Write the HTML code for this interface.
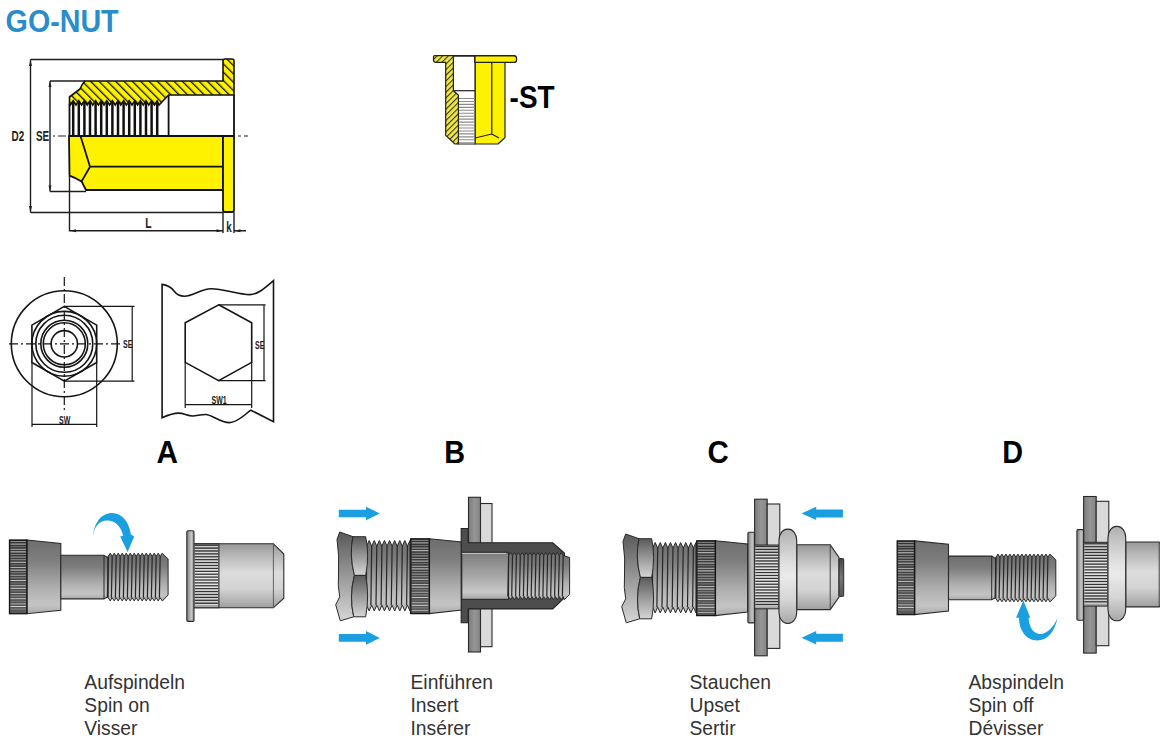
<!DOCTYPE html>
<html><head><meta charset="utf-8">
<style>
html,body{margin:0;padding:0;background:#fff;width:1160px;height:749px;overflow:hidden}
svg{display:block;position:absolute;left:0;top:0}
text{font-family:"Liberation Sans",sans-serif}
</style></head>
<body>
<svg width="1160" height="749" viewBox="0 0 1160 749">
<defs>
<pattern id="hatch" patternUnits="userSpaceOnUse" width="5.9" height="5.9" patternTransform="rotate(-45)">
<rect width="5.9" height="5.9" fill="#fff200"/>
<rect x="0" y="0" width="1.3" height="5.9" fill="#111"/>
</pattern>
<pattern id="hatch2" patternUnits="userSpaceOnUse" width="4" height="4" patternTransform="rotate(45)">
<rect width="4" height="4" fill="#f3ea3a"/>
<rect x="0" y="0" width="1.1" height="4" fill="#333"/>
</pattern>
<linearGradient id="gTool" x1="0" y1="0" x2="0" y2="1">
<stop offset="0" stop-color="#6e6e6e"/><stop offset="0.28" stop-color="#7e7e7e"/><stop offset="0.68" stop-color="#b2b2b2"/><stop offset="0.88" stop-color="#c4c4c4"/><stop offset="1" stop-color="#aaa"/>
</linearGradient>
<linearGradient id="gNut" x1="0" y1="0" x2="0" y2="1">
<stop offset="0" stop-color="#989898"/><stop offset="0.2" stop-color="#bababa"/><stop offset="0.45" stop-color="#dcdcdc"/><stop offset="0.7" stop-color="#d4d4d4"/><stop offset="1" stop-color="#a0a0a0"/>
</linearGradient>
<linearGradient id="gHex" x1="0" y1="0" x2="0" y2="1">
<stop offset="0" stop-color="#5a5a5a"/><stop offset="0.5" stop-color="#999"/><stop offset="1" stop-color="#d6d6d6"/>
</linearGradient>
<linearGradient id="gCap" x1="0" y1="0" x2="0" y2="1">
<stop offset="0" stop-color="#444"/><stop offset="0.5" stop-color="#777"/><stop offset="1" stop-color="#555"/>
</linearGradient>
<linearGradient id="gPlate1" x1="0" y1="0" x2="1" y2="0">
<stop offset="0" stop-color="#7c7c7c"/><stop offset="0.5" stop-color="#959595"/><stop offset="1" stop-color="#858585"/>
</linearGradient>
<linearGradient id="gFlange" x1="0" y1="0" x2="1" y2="0">
<stop offset="0" stop-color="#7e7e7e"/><stop offset="0.35" stop-color="#a6a6a6"/><stop offset="0.65" stop-color="#c6c6c6"/><stop offset="1" stop-color="#8a8a8a"/>
</linearGradient>
<linearGradient id="gBulge" x1="0" y1="0" x2="0" y2="1">
<stop offset="0" stop-color="#b0b0b0"/><stop offset="0.35" stop-color="#dedede"/><stop offset="0.5" stop-color="#eaeaea"/><stop offset="0.75" stop-color="#d5d5d5"/><stop offset="1" stop-color="#a8a8a8"/>
</linearGradient>
<linearGradient id="gKnurl" x1="0" y1="0" x2="0" y2="1">
<stop offset="0" stop-color="#333"/><stop offset="0.5" stop-color="#444"/><stop offset="1" stop-color="#5a5a5a"/>
</linearGradient>
<linearGradient id="gBore" x1="0" y1="0" x2="0" y2="1">
<stop offset="0" stop-color="#7c7c7c"/><stop offset="0.5" stop-color="#a6a6a6"/><stop offset="0.85" stop-color="#c9c9c9"/><stop offset="1" stop-color="#a4a4a4"/>
</linearGradient>
</defs>

<text font-size="30.5" font-weight="bold" fill="#2a8dcb" transform="translate(5.6 32) scale(0.94 1)">GO-NUT</text>
<g fill="none" stroke="#1e1e1e" stroke-width="1.4">
<path d="M30.5 59.5 V212.5 M30.5 59.5 H223 M30.5 212.5 H223"/>
<path d="M50 81 V191.5 M50 81 H85 M50 191.5 H86"/>
<path d="M69.5 176 V230.8 H223 M223 212 V233 M234 212 V233 M234 230.8 H246"/>
</g>
<g fill="#1e1e1e">
<path d="M30.5 60 L29 66 H32 Z M30.5 212 L29 206 H32 Z M50 81.5 L48.5 87 H51.5 Z M50 191 L48.5 185.5 H51.5 Z M70 230.8 L76 229.3 V232.3 Z M222.5 230.8 L216.5 229.3 V232.3 Z M234.5 230.8 L240.5 229.3 V232.3 Z"/>
</g>
<path d="M85 81 H223 V61 Q223 59 225 59 H232 Q234 59 234 61 V95 H168.6 L159 105 L157.2 100.8 L154.4 105 L151.6 100.8 L148.8 105 L146 100.8 L143.2 105 L140.4 100.8 L137.6 105 L134.8 100.8 L132 105 L129.2 100.8 L126.4 105 L123.6 100.8 L120.8 105 L118 100.8 L115.2 105 L112.4 100.8 L109.6 105 L106.8 100.8 L104 105 L101.2 100.8 L98.4 105 L95.6 100.8 L92.8 105 L90 100.8 L87.2 105 L84.4 100.8 L81.6 105 L78.8 100.8 L76 105 L73.2 100.8 L70.4 105 L69.5 104 V97 Q76 92 80 89 Q82 84 85 81 Z" fill="url(#hatch)" stroke="#111" stroke-width="1.6" stroke-linejoin="miter"/>
<path d="M71.95 136 V103 L73.2 101.5 L74.45 103 V136 Z M77.55 136 V103 L78.8 101.5 L80.05 103 V136 Z M83.15 136 V103 L84.4 101.5 L85.65 103 V136 Z M88.75 136 V103 L90 101.5 L91.25 103 V136 Z M94.35 136 V103 L95.6 101.5 L96.85 103 V136 Z M99.95 136 V103 L101.2 101.5 L102.45 103 V136 Z M105.55 136 V103 L106.8 101.5 L108.05 103 V136 Z M111.15 136 V103 L112.4 101.5 L113.65 103 V136 Z M116.75 136 V103 L118 101.5 L119.25 103 V136 Z M122.35 136 V103 L123.6 101.5 L124.85 103 V136 Z M127.95 136 V103 L129.2 101.5 L130.45 103 V136 Z M133.55 136 V103 L134.8 101.5 L136.05 103 V136 Z M139.15 136 V103 L140.4 101.5 L141.65 103 V136 Z M144.75 136 V103 L146 101.5 L147.25 103 V136 Z M150.35 136 V103 L151.6 101.5 L152.85 103 V136 Z M155.95 136 V103 L157.2 101.5 L158.45 103 V136 Z" fill="#111"/>
<path d="M69.5 104 V136 M168.6 95 V136 M234 95 V136" stroke="#111" stroke-width="1.8" fill="none"/>
<path d="M69 136 H223 V190 H86 L81.6 181.4 Q76 178 69.5 175.6 Z" fill="#fff200" stroke="#111" stroke-width="1.8" stroke-linejoin="round"/>
<path d="M80.5 136 L90 166.7 H223 M90 166.7 L81.6 181.4" fill="none" stroke="#111" stroke-width="1.8"/>
<path d="M223 136 H234 V210 Q234 212 232 212 H225 Q223 212 223 210 Z" fill="#fff200" stroke="#111" stroke-width="1.8"/>
<path d="M53 136 H55 M58 136 H66 M238 136 H241 M244 136 H248" stroke="#222" stroke-width="1.2"/>
<g font-weight="bold" fill="#1e1e1e">
<text font-size="15" transform="translate(11.6 141.3) scale(0.66 1)">D2</text>
<text font-size="15" transform="translate(36 141.3) scale(0.66 1)">SE</text>
<text font-size="14.5" transform="translate(145.3 227.8) scale(0.72 1)">L</text>
<text font-size="14.5" transform="translate(226.3 231.5) scale(0.68 1)">k</text>
</g>
<g stroke="#222" stroke-width="1.2" stroke-linejoin="round">
<path d="M475 62 H505 V137.5 L498 144 H475 Z" fill="#fff200"/>
<path d="M491.8 62 V134 M475 138 L491.8 134 L499 138" fill="none"/>
<path d="M453.4 56 H475 V144 H458.4 V95.4 L453.4 90.7 Z" fill="#fff"/>
<path d="M453.4 90.7 H475" fill="none"/>
</g>
<path d="M458.6 98.5 H475 M458.6 101.45 H475 M458.6 104.4 H475 M458.6 107.35 H475 M458.6 110.3 H475 M458.6 113.25 H475 M458.6 116.2 H475 M458.6 119.15 H475 M458.6 122.1 H475 M458.6 125.05 H475 M458.6 128 H475 M458.6 130.95 H475 M458.6 133.9 H475 M458.6 136.85 H475 M458.6 139.8 H475 M458.6 142.75 H475" stroke="#8a8a8a" stroke-width="1.1"/>
<path d="M433.5 56 Q433.5 55.6 436 55.6 H514 Q516.5 55.6 516.5 58.5 V60 Q516.5 62.3 514 62.3 H475 V56 H453.4 V90.7 L458.4 95.4 V144 H455 L445.7 135.4 V62.3 H436 Q433.5 62.3 433.5 60 Z" fill="url(#hatch2)" stroke="#222" stroke-width="1.2" stroke-linejoin="round"/>
<path d="M475 56 H514 Q516.5 56 516.5 58.5 V60 Q516.5 62.3 514 62.3 H475 Z" fill="#fff200" stroke="#222" stroke-width="1.2"/>
<text font-size="31" font-weight="bold" fill="#000" transform="translate(509.6 108.3) scale(0.9 1)">-ST</text>
<g fill="none" stroke="#151515" stroke-width="1.6">
<circle cx="64.3" cy="343.8" r="53"/>
<path d="M64.3 306.4 L96.7 325.1 V362.5 L64.3 381.2 L31.9 362.5 V325.1 Z"/>
<circle cx="64.3" cy="343.8" r="32.4"/>
<circle cx="64.3" cy="343.8" r="28.5"/>
<circle cx="64.3" cy="343.8" r="23.5"/>
<circle cx="64.3" cy="343.8" r="21"/>
<circle cx="64.3" cy="343.8" r="13.2"/>
<path d="M64.3 277 V410 M9 343.8 H123" stroke-dasharray="9 3 2 3" stroke-width="1.2"/>
<path d="M64.3 306.4 H134.5 M64.3 381.2 H134.5 M132.2 306.4 V381.2 M32 362 V427 M96.7 362 V427 M32 424.3 H96.7" stroke-width="1.2"/>
</g>
<g font-weight="bold" fill="#222">
<text font-size="10" transform="translate(123 348) scale(0.7 1)">SE</text>
<text font-size="10" transform="translate(59 424) scale(0.7 1)">SW</text>
</g>
<g fill="none" stroke="#151515" stroke-width="1.6">
<path d="M162.1 284.4 C168 285 171 287 174 291 C177 295 180 296.2 184.5 296.2 C193 296.2 201 288.7 211 288.7 C224 288.7 238 294.6 249.8 294.6 C258 294.6 266 287 273.5 280.6 V421.6 L250.9 410.2 C245 414 238 422.6 229.4 422.6 C220 422.6 212 414.5 205.6 414.5 C200 414.5 197 416 192.7 416 C187 416 184 413.1 178.7 413.1 C172 413.1 166 416 162.1 417.8 Z"/>
<path d="M218.7 304.8 L251.7 322.8 V362.4 L218.7 380.7 L185.2 362.4 V322.8 Z"/>
<path d="M218.7 304.8 H265.6 M218.7 380.7 H265.6 M264 304.8 V380.7 M185.2 362.4 V408 M251.7 362.4 V408 M185.2 404.7 H251.7" stroke-width="1.2"/>
</g>
<g font-weight="bold" fill="#222">
<text font-size="10" transform="translate(255 349) scale(0.7 1)">SE</text>
<text font-size="10" transform="translate(211.5 404) scale(0.7 1)">SW1</text>
</g>
<g font-size="31" font-weight="bold" fill="#000">
<text transform="translate(156.5 463) scale(0.96 1)">A</text><text transform="translate(444.3 463) scale(0.93 1)">B</text><text transform="translate(707.5 463) scale(0.95 1)">C</text><text transform="translate(1002.3 463) scale(0.93 1)">D</text>
</g>
<g font-size="19.3" fill="#333">
<text x="84.3" y="689">Aufspindeln</text>
<text x="84.3" y="712">Spin on</text>
<text x="84.3" y="735">Visser</text>
<text x="410.5" y="689">Einführen</text>
<text x="410.5" y="712">Insert</text>
<text x="410.5" y="735">Insérer</text>
<text x="689.5" y="689">Stauchen</text>
<text x="689.5" y="712">Upset</text>
<text x="689.5" y="735">Sertir</text>
<text x="968.5" y="689">Abspindeln</text>
<text x="968.5" y="712">Spin off</text>
<text x="968.5" y="735">Dévisser</text>
</g>
<g><path d="M26.9 540 L60.8 543.4 V610.2 L26.9 613.7 Z" fill="url(#gTool)" stroke="#2a2a2a" stroke-width="1.1"/><path d="M60.8 555.2 H104 L108.2 558 V596.5 L104 598.9 H60.8 Z" fill="url(#gTool)" stroke="#2a2a2a" stroke-width="1.1"/><path d="M104 555.2 V598.9" stroke="#2a2a2a" stroke-width="1"/><path d="M108.2 556.3 L110.2 553.2 L112.2 556.3 L114.2 553.2 L116.2 556.3 L118.2 553.2 L120.2 556.3 L122.2 553.2 L124.2 556.3 L126.2 553.2 L128.2 556.3 L130.2 553.2 L132.2 556.3 L134.2 553.2 L136.2 556.3 L138.2 553.2 L140.2 556.3 L142.2 553.2 L144.2 556.3 L146.2 553.2 L148.2 556.3 L150.2 553.2 L152.2 556.3 L154.2 553.2 L156.2 556.3 L158.2 553.2 L160.2 556.3 L162.2 553.2 L168.1 558.9 V594.9 L162.5 600.9 L162.2 600.9 L160.2 597.7 L158.2 600.9 L156.2 597.7 L154.2 600.9 L152.2 597.7 L150.2 600.9 L148.2 597.7 L146.2 600.9 L144.2 597.7 L142.2 600.9 L140.2 597.7 L138.2 600.9 L136.2 597.7 L134.2 600.9 L132.2 597.7 L130.2 600.9 L128.2 597.7 L126.2 600.9 L124.2 597.7 L122.2 600.9 L120.2 597.7 L118.2 600.9 L116.2 597.7 L114.2 600.9 L112.2 597.7 L110.2 600.9 L108.2 597.7 Z" fill="url(#gTool)" stroke="#2a2a2a" stroke-width="1" stroke-linejoin="miter"/><path d="M108.2 556.3 L107.4 597.7 M112.2 556.3 L111.4 597.7 M116.2 556.3 L115.4 597.7 M120.2 556.3 L119.4 597.7 M124.2 556.3 L123.4 597.7 M128.2 556.3 L127.4 597.7 M132.2 556.3 L131.4 597.7 M136.2 556.3 L135.4 597.7 M140.2 556.3 L139.4 597.7 M144.2 556.3 L143.4 597.7 M148.2 556.3 L147.4 597.7 M152.2 556.3 L151.4 597.7 M156.2 556.3 L155.4 597.7 M160.2 556.3 L159.4 597.7" stroke="#262626" stroke-width="1.2" fill="none"/><rect x="9.5" y="540" width="17.4" height="73.7" fill="url(#gKnurl)"/><path d="M10.3 541.5 H26.1" stroke="#9a9a9a" stroke-width="0.9"/><path d="M10.3 544.1 H26.1" stroke="#cfcfcf" stroke-width="0.9"/><path d="M10.3 546.7 H26.1" stroke="#7a7a7a" stroke-width="0.9"/><path d="M10.3 549.3 H26.1" stroke="#bdbdbd" stroke-width="0.9"/><path d="M10.3 551.9 H26.1" stroke="#e0e0e0" stroke-width="0.9"/><path d="M10.3 554.5 H26.1" stroke="#8a8a8a" stroke-width="0.9"/><path d="M10.3 557.1 H26.1" stroke="#b0b0b0" stroke-width="0.9"/><path d="M10.3 559.7 H26.1" stroke="#9a9a9a" stroke-width="0.9"/><path d="M10.3 562.3 H26.1" stroke="#cfcfcf" stroke-width="0.9"/><path d="M10.3 564.9 H26.1" stroke="#7a7a7a" stroke-width="0.9"/><path d="M10.3 567.5 H26.1" stroke="#bdbdbd" stroke-width="0.9"/><path d="M10.3 570.1 H26.1" stroke="#e0e0e0" stroke-width="0.9"/><path d="M10.3 572.7 H26.1" stroke="#8a8a8a" stroke-width="0.9"/><path d="M10.3 575.3 H26.1" stroke="#b0b0b0" stroke-width="0.9"/><path d="M10.3 577.9 H26.1" stroke="#9a9a9a" stroke-width="0.9"/><path d="M10.3 580.5 H26.1" stroke="#cfcfcf" stroke-width="0.9"/><path d="M10.3 583.1 H26.1" stroke="#7a7a7a" stroke-width="0.9"/><path d="M10.3 585.7 H26.1" stroke="#bdbdbd" stroke-width="0.9"/><path d="M10.3 588.3 H26.1" stroke="#e0e0e0" stroke-width="0.9"/><path d="M10.3 590.9 H26.1" stroke="#8a8a8a" stroke-width="0.9"/><path d="M10.3 593.5 H26.1" stroke="#b0b0b0" stroke-width="0.9"/><path d="M10.3 596.1 H26.1" stroke="#9a9a9a" stroke-width="0.9"/><path d="M10.3 598.7 H26.1" stroke="#cfcfcf" stroke-width="0.9"/><path d="M10.3 601.3 H26.1" stroke="#7a7a7a" stroke-width="0.9"/><path d="M10.3 603.9 H26.1" stroke="#bdbdbd" stroke-width="0.9"/><path d="M10.3 606.5 H26.1" stroke="#e0e0e0" stroke-width="0.9"/><path d="M10.3 609.1 H26.1" stroke="#8a8a8a" stroke-width="0.9"/><rect x="9.5" y="540" width="17.4" height="73.7" fill="none" stroke="#151515" stroke-width="1.3"/></g>
<g transform="translate(887.7 0.9)"><path d="M26.9 540 L60.8 543.4 V610.2 L26.9 613.7 Z" fill="url(#gTool)" stroke="#2a2a2a" stroke-width="1.1"/><path d="M60.8 555.2 H104 L108.2 558 V596.5 L104 598.9 H60.8 Z" fill="url(#gTool)" stroke="#2a2a2a" stroke-width="1.1"/><path d="M104 555.2 V598.9" stroke="#2a2a2a" stroke-width="1"/><path d="M108.2 556.3 L110.2 553.2 L112.2 556.3 L114.2 553.2 L116.2 556.3 L118.2 553.2 L120.2 556.3 L122.2 553.2 L124.2 556.3 L126.2 553.2 L128.2 556.3 L130.2 553.2 L132.2 556.3 L134.2 553.2 L136.2 556.3 L138.2 553.2 L140.2 556.3 L142.2 553.2 L144.2 556.3 L146.2 553.2 L148.2 556.3 L150.2 553.2 L152.2 556.3 L154.2 553.2 L156.2 556.3 L158.2 553.2 L160.2 556.3 L162.2 553.2 L168.1 558.9 V594.9 L162.5 600.9 L162.2 600.9 L160.2 597.7 L158.2 600.9 L156.2 597.7 L154.2 600.9 L152.2 597.7 L150.2 600.9 L148.2 597.7 L146.2 600.9 L144.2 597.7 L142.2 600.9 L140.2 597.7 L138.2 600.9 L136.2 597.7 L134.2 600.9 L132.2 597.7 L130.2 600.9 L128.2 597.7 L126.2 600.9 L124.2 597.7 L122.2 600.9 L120.2 597.7 L118.2 600.9 L116.2 597.7 L114.2 600.9 L112.2 597.7 L110.2 600.9 L108.2 597.7 Z" fill="url(#gTool)" stroke="#2a2a2a" stroke-width="1" stroke-linejoin="miter"/><path d="M108.2 556.3 L107.4 597.7 M112.2 556.3 L111.4 597.7 M116.2 556.3 L115.4 597.7 M120.2 556.3 L119.4 597.7 M124.2 556.3 L123.4 597.7 M128.2 556.3 L127.4 597.7 M132.2 556.3 L131.4 597.7 M136.2 556.3 L135.4 597.7 M140.2 556.3 L139.4 597.7 M144.2 556.3 L143.4 597.7 M148.2 556.3 L147.4 597.7 M152.2 556.3 L151.4 597.7 M156.2 556.3 L155.4 597.7 M160.2 556.3 L159.4 597.7" stroke="#262626" stroke-width="1.2" fill="none"/><rect x="9.5" y="540" width="17.4" height="73.7" fill="url(#gKnurl)"/><path d="M10.3 541.5 H26.1" stroke="#9a9a9a" stroke-width="0.9"/><path d="M10.3 544.1 H26.1" stroke="#cfcfcf" stroke-width="0.9"/><path d="M10.3 546.7 H26.1" stroke="#7a7a7a" stroke-width="0.9"/><path d="M10.3 549.3 H26.1" stroke="#bdbdbd" stroke-width="0.9"/><path d="M10.3 551.9 H26.1" stroke="#e0e0e0" stroke-width="0.9"/><path d="M10.3 554.5 H26.1" stroke="#8a8a8a" stroke-width="0.9"/><path d="M10.3 557.1 H26.1" stroke="#b0b0b0" stroke-width="0.9"/><path d="M10.3 559.7 H26.1" stroke="#9a9a9a" stroke-width="0.9"/><path d="M10.3 562.3 H26.1" stroke="#cfcfcf" stroke-width="0.9"/><path d="M10.3 564.9 H26.1" stroke="#7a7a7a" stroke-width="0.9"/><path d="M10.3 567.5 H26.1" stroke="#bdbdbd" stroke-width="0.9"/><path d="M10.3 570.1 H26.1" stroke="#e0e0e0" stroke-width="0.9"/><path d="M10.3 572.7 H26.1" stroke="#8a8a8a" stroke-width="0.9"/><path d="M10.3 575.3 H26.1" stroke="#b0b0b0" stroke-width="0.9"/><path d="M10.3 577.9 H26.1" stroke="#9a9a9a" stroke-width="0.9"/><path d="M10.3 580.5 H26.1" stroke="#cfcfcf" stroke-width="0.9"/><path d="M10.3 583.1 H26.1" stroke="#7a7a7a" stroke-width="0.9"/><path d="M10.3 585.7 H26.1" stroke="#bdbdbd" stroke-width="0.9"/><path d="M10.3 588.3 H26.1" stroke="#e0e0e0" stroke-width="0.9"/><path d="M10.3 590.9 H26.1" stroke="#8a8a8a" stroke-width="0.9"/><path d="M10.3 593.5 H26.1" stroke="#b0b0b0" stroke-width="0.9"/><path d="M10.3 596.1 H26.1" stroke="#9a9a9a" stroke-width="0.9"/><path d="M10.3 598.7 H26.1" stroke="#cfcfcf" stroke-width="0.9"/><path d="M10.3 601.3 H26.1" stroke="#7a7a7a" stroke-width="0.9"/><path d="M10.3 603.9 H26.1" stroke="#bdbdbd" stroke-width="0.9"/><path d="M10.3 606.5 H26.1" stroke="#e0e0e0" stroke-width="0.9"/><path d="M10.3 609.1 H26.1" stroke="#8a8a8a" stroke-width="0.9"/><rect x="9.5" y="540" width="17.4" height="73.7" fill="none" stroke="#151515" stroke-width="1.3"/></g>
<path d="M194 543.7 H273.4 L283.8 554 V598.2 L273.4 607.8 H194 Z" fill="url(#gNut)" stroke="#2a2a2a" stroke-width="1.1"/><path d="M273.4 543.7 V607.8" stroke="#555" stroke-width="0.9"/><rect x="194" y="543.7" width="24.9" height="64.1" fill="url(#gNut)"/><path d="M194.8 545.2 H218.1" stroke="#333" stroke-width="1.3"/><path d="M194.8 548.1 H218.1" stroke="#333" stroke-width="1.3"/><path d="M194.8 551 H218.1" stroke="#333" stroke-width="1.3"/><path d="M194.8 553.9 H218.1" stroke="#333" stroke-width="1.3"/><path d="M194.8 556.8 H218.1" stroke="#333" stroke-width="1.3"/><path d="M194.8 559.7 H218.1" stroke="#333" stroke-width="1.3"/><path d="M194.8 562.6 H218.1" stroke="#333" stroke-width="1.3"/><path d="M194.8 565.5 H218.1" stroke="#333" stroke-width="1.3"/><path d="M194.8 568.4 H218.1" stroke="#333" stroke-width="1.3"/><path d="M194.8 571.3 H218.1" stroke="#333" stroke-width="1.3"/><path d="M194.8 574.2 H218.1" stroke="#333" stroke-width="1.3"/><path d="M194.8 577.1 H218.1" stroke="#333" stroke-width="1.3"/><path d="M194.8 580 H218.1" stroke="#333" stroke-width="1.3"/><path d="M194.8 582.9 H218.1" stroke="#333" stroke-width="1.3"/><path d="M194.8 585.8 H218.1" stroke="#333" stroke-width="1.3"/><path d="M194.8 588.7 H218.1" stroke="#333" stroke-width="1.3"/><path d="M194.8 591.6 H218.1" stroke="#333" stroke-width="1.3"/><path d="M194.8 594.5 H218.1" stroke="#333" stroke-width="1.3"/><path d="M194.8 597.4 H218.1" stroke="#333" stroke-width="1.3"/><path d="M194.8 600.3 H218.1" stroke="#333" stroke-width="1.3"/><path d="M194.8 603.2 H218.1" stroke="#333" stroke-width="1.3"/><rect x="194" y="545.1" width="24.9" height="62.7" fill="none"/><path d="M194.8 546.6 H218.1" stroke="#ececec" stroke-width="0.7"/><path d="M194.8 549.5 H218.1" stroke="#ececec" stroke-width="0.7"/><path d="M194.8 552.4 H218.1" stroke="#ececec" stroke-width="0.7"/><path d="M194.8 555.3 H218.1" stroke="#ececec" stroke-width="0.7"/><path d="M194.8 558.2 H218.1" stroke="#ececec" stroke-width="0.7"/><path d="M194.8 561.1 H218.1" stroke="#ececec" stroke-width="0.7"/><path d="M194.8 564 H218.1" stroke="#ececec" stroke-width="0.7"/><path d="M194.8 566.9 H218.1" stroke="#ececec" stroke-width="0.7"/><path d="M194.8 569.8 H218.1" stroke="#ececec" stroke-width="0.7"/><path d="M194.8 572.7 H218.1" stroke="#ececec" stroke-width="0.7"/><path d="M194.8 575.6 H218.1" stroke="#ececec" stroke-width="0.7"/><path d="M194.8 578.5 H218.1" stroke="#ececec" stroke-width="0.7"/><path d="M194.8 581.4 H218.1" stroke="#ececec" stroke-width="0.7"/><path d="M194.8 584.3 H218.1" stroke="#ececec" stroke-width="0.7"/><path d="M194.8 587.2 H218.1" stroke="#ececec" stroke-width="0.7"/><path d="M194.8 590.1 H218.1" stroke="#ececec" stroke-width="0.7"/><path d="M194.8 593 H218.1" stroke="#ececec" stroke-width="0.7"/><path d="M194.8 595.9 H218.1" stroke="#ececec" stroke-width="0.7"/><path d="M194.8 598.8 H218.1" stroke="#ececec" stroke-width="0.7"/><path d="M194.8 601.7 H218.1" stroke="#ececec" stroke-width="0.7"/><path d="M194.8 604.6 H218.1" stroke="#ececec" stroke-width="0.7"/><path d="M194 543.7 H218.9 V607.8 H194" fill="none" stroke="#2a2a2a" stroke-width="1.1"/><rect x="186.8" y="530.8" width="7.2" height="90.6" rx="1.2" fill="url(#gFlange)" stroke="#2a2a2a" stroke-width="1.1"/>
<path d="M93.1 536.6 C94 522 102 513.1 112.2 513.1 C122 513.1 129 522 130.9 534.4 L134.2 536.6 L127.6 552 L120.2 536.6 L123.2 535.8 C121 526 115 520.4 107 520.4 C99 520.4 94 527 93.1 536.6 Z" fill="#1a9fe0"/>
<path d="M1023.4 600.5 L1030.3 617.8 L1028.6 617.8 C1029 628 1034 634 1040 634 C1047 634 1054 627 1057.5 617.8 C1055 632 1047 640.5 1037.3 640.5 C1026 640.5 1019 630 1019 617.8 L1016 617.8 Z" fill="#1a9fe0"/>
<path d="M338.8 509.7 H366 V506.7 L379.8 513.5 L366 520.3 V517.3 H338.8 Z" fill="#1a9fe0"/>
<path d="M338.8 634.1 H366 V631.1 L379.8 637.9 L366 644.7 V641.7 H338.8 Z" fill="#1a9fe0"/>
<path d="M842.9 509.4 H816.2 V506.7 L801.5 513.4 L816.2 520.1 V517.4 H842.9 Z" fill="#1a9fe0"/>
<path d="M842.9 633.7 H816.2 V631 L801.5 637.7 L816.2 644.4 V641.7 H842.9 Z" fill="#1a9fe0"/>
<g><path d="M715.4 540.8 L747.6 544 V612.1 L715.4 615.6 Z" fill="url(#gTool)" stroke="#2a2a2a" stroke-width="1.1"/><rect x="696.7" y="540.8" width="18.7" height="74.8" fill="url(#gKnurl)"/><path d="M697.5 542.3 H714.6" stroke="#9a9a9a" stroke-width="0.9"/><path d="M697.5 544.9 H714.6" stroke="#cfcfcf" stroke-width="0.9"/><path d="M697.5 547.5 H714.6" stroke="#7a7a7a" stroke-width="0.9"/><path d="M697.5 550.1 H714.6" stroke="#bdbdbd" stroke-width="0.9"/><path d="M697.5 552.7 H714.6" stroke="#e0e0e0" stroke-width="0.9"/><path d="M697.5 555.3 H714.6" stroke="#8a8a8a" stroke-width="0.9"/><path d="M697.5 557.9 H714.6" stroke="#b0b0b0" stroke-width="0.9"/><path d="M697.5 560.5 H714.6" stroke="#9a9a9a" stroke-width="0.9"/><path d="M697.5 563.1 H714.6" stroke="#cfcfcf" stroke-width="0.9"/><path d="M697.5 565.7 H714.6" stroke="#7a7a7a" stroke-width="0.9"/><path d="M697.5 568.3 H714.6" stroke="#bdbdbd" stroke-width="0.9"/><path d="M697.5 570.9 H714.6" stroke="#e0e0e0" stroke-width="0.9"/><path d="M697.5 573.5 H714.6" stroke="#8a8a8a" stroke-width="0.9"/><path d="M697.5 576.1 H714.6" stroke="#b0b0b0" stroke-width="0.9"/><path d="M697.5 578.7 H714.6" stroke="#9a9a9a" stroke-width="0.9"/><path d="M697.5 581.3 H714.6" stroke="#cfcfcf" stroke-width="0.9"/><path d="M697.5 583.9 H714.6" stroke="#7a7a7a" stroke-width="0.9"/><path d="M697.5 586.5 H714.6" stroke="#bdbdbd" stroke-width="0.9"/><path d="M697.5 589.1 H714.6" stroke="#e0e0e0" stroke-width="0.9"/><path d="M697.5 591.7 H714.6" stroke="#8a8a8a" stroke-width="0.9"/><path d="M697.5 594.3 H714.6" stroke="#b0b0b0" stroke-width="0.9"/><path d="M697.5 596.9 H714.6" stroke="#9a9a9a" stroke-width="0.9"/><path d="M697.5 599.5 H714.6" stroke="#cfcfcf" stroke-width="0.9"/><path d="M697.5 602.1 H714.6" stroke="#7a7a7a" stroke-width="0.9"/><path d="M697.5 604.7 H714.6" stroke="#bdbdbd" stroke-width="0.9"/><path d="M697.5 607.3 H714.6" stroke="#e0e0e0" stroke-width="0.9"/><path d="M697.5 609.9 H714.6" stroke="#8a8a8a" stroke-width="0.9"/><path d="M697.5 612.5 H714.6" stroke="#b0b0b0" stroke-width="0.9"/><rect x="696.7" y="540.8" width="18.7" height="74.8" fill="none" stroke="#151515" stroke-width="1.3"/><path d="M652.6 548.1 L655.15 542.5 L657.7 548.1 L660.25 542.5 L662.8 548.1 L665.35 542.5 L667.9 548.1 L670.45 542.5 L673 548.1 L675.55 542.5 L678.1 548.1 L680.65 542.5 L683.2 548.1 L685.75 542.5 L688.3 548.1 L690.85 542.5 L693.4 548.1 L695.95 542.5 L695.95 612.9 L693.4 607.2 L690.85 612.9 L688.3 607.2 L685.75 612.9 L683.2 607.2 L680.65 612.9 L678.1 607.2 L675.55 612.9 L673 607.2 L670.45 612.9 L667.9 607.2 L665.35 612.9 L662.8 607.2 L660.25 612.9 L657.7 607.2 L655.15 612.9 L652.6 607.2 Z" fill="url(#gTool)" stroke="#2a2a2a" stroke-width="1" stroke-linejoin="miter"/><path d="M652.6 548.1 L651.8 607.2 M657.7 548.1 L656.9 607.2 M662.8 548.1 L662 607.2 M667.9 548.1 L667.1 607.2 M673 548.1 L672.2 607.2 M678.1 548.1 L677.3 607.2 M683.2 548.1 L682.4 607.2 M688.3 548.1 L687.5 607.2 M693.4 548.1 L692.6 607.2" stroke="#262626" stroke-width="1.2" fill="none"/><path d="M625.7 534 L639 538.7 Q635 556 640.4 577.4 Q635 598 639.7 618.8 L626.3 622.8 L621.7 606.8 L625.7 598.8 Q623.5 588 624.5 575 Q625.5 558 623 541.4 Z" fill="url(#gHex)" stroke="#2a2a2a" stroke-width="1"/><path d="M639 538.7 H651.7 Q655.5 557 651.7 577.4 H640.4 Q635 556 639 538.7 Z" fill="url(#gHex)" stroke="#2a2a2a" stroke-width="1"/><path d="M640.4 577.4 H651.7 Q655.5 598 651.7 618.8 H639.7 Q635 598 640.4 577.4 Z" fill="url(#gHex)" stroke="#2a2a2a" stroke-width="1"/></g>
<g transform="translate(-286 -2)"><path d="M715.4 540.8 L747.6 544 V612.1 L715.4 615.6 Z" fill="url(#gTool)" stroke="#2a2a2a" stroke-width="1.1"/><rect x="696.7" y="540.8" width="18.7" height="74.8" fill="url(#gKnurl)"/><path d="M697.5 542.3 H714.6" stroke="#9a9a9a" stroke-width="0.9"/><path d="M697.5 544.9 H714.6" stroke="#cfcfcf" stroke-width="0.9"/><path d="M697.5 547.5 H714.6" stroke="#7a7a7a" stroke-width="0.9"/><path d="M697.5 550.1 H714.6" stroke="#bdbdbd" stroke-width="0.9"/><path d="M697.5 552.7 H714.6" stroke="#e0e0e0" stroke-width="0.9"/><path d="M697.5 555.3 H714.6" stroke="#8a8a8a" stroke-width="0.9"/><path d="M697.5 557.9 H714.6" stroke="#b0b0b0" stroke-width="0.9"/><path d="M697.5 560.5 H714.6" stroke="#9a9a9a" stroke-width="0.9"/><path d="M697.5 563.1 H714.6" stroke="#cfcfcf" stroke-width="0.9"/><path d="M697.5 565.7 H714.6" stroke="#7a7a7a" stroke-width="0.9"/><path d="M697.5 568.3 H714.6" stroke="#bdbdbd" stroke-width="0.9"/><path d="M697.5 570.9 H714.6" stroke="#e0e0e0" stroke-width="0.9"/><path d="M697.5 573.5 H714.6" stroke="#8a8a8a" stroke-width="0.9"/><path d="M697.5 576.1 H714.6" stroke="#b0b0b0" stroke-width="0.9"/><path d="M697.5 578.7 H714.6" stroke="#9a9a9a" stroke-width="0.9"/><path d="M697.5 581.3 H714.6" stroke="#cfcfcf" stroke-width="0.9"/><path d="M697.5 583.9 H714.6" stroke="#7a7a7a" stroke-width="0.9"/><path d="M697.5 586.5 H714.6" stroke="#bdbdbd" stroke-width="0.9"/><path d="M697.5 589.1 H714.6" stroke="#e0e0e0" stroke-width="0.9"/><path d="M697.5 591.7 H714.6" stroke="#8a8a8a" stroke-width="0.9"/><path d="M697.5 594.3 H714.6" stroke="#b0b0b0" stroke-width="0.9"/><path d="M697.5 596.9 H714.6" stroke="#9a9a9a" stroke-width="0.9"/><path d="M697.5 599.5 H714.6" stroke="#cfcfcf" stroke-width="0.9"/><path d="M697.5 602.1 H714.6" stroke="#7a7a7a" stroke-width="0.9"/><path d="M697.5 604.7 H714.6" stroke="#bdbdbd" stroke-width="0.9"/><path d="M697.5 607.3 H714.6" stroke="#e0e0e0" stroke-width="0.9"/><path d="M697.5 609.9 H714.6" stroke="#8a8a8a" stroke-width="0.9"/><path d="M697.5 612.5 H714.6" stroke="#b0b0b0" stroke-width="0.9"/><rect x="696.7" y="540.8" width="18.7" height="74.8" fill="none" stroke="#151515" stroke-width="1.3"/><path d="M652.6 548.1 L655.15 542.5 L657.7 548.1 L660.25 542.5 L662.8 548.1 L665.35 542.5 L667.9 548.1 L670.45 542.5 L673 548.1 L675.55 542.5 L678.1 548.1 L680.65 542.5 L683.2 548.1 L685.75 542.5 L688.3 548.1 L690.85 542.5 L693.4 548.1 L695.95 542.5 L695.95 612.9 L693.4 607.2 L690.85 612.9 L688.3 607.2 L685.75 612.9 L683.2 607.2 L680.65 612.9 L678.1 607.2 L675.55 612.9 L673 607.2 L670.45 612.9 L667.9 607.2 L665.35 612.9 L662.8 607.2 L660.25 612.9 L657.7 607.2 L655.15 612.9 L652.6 607.2 Z" fill="url(#gTool)" stroke="#2a2a2a" stroke-width="1" stroke-linejoin="miter"/><path d="M652.6 548.1 L651.8 607.2 M657.7 548.1 L656.9 607.2 M662.8 548.1 L662 607.2 M667.9 548.1 L667.1 607.2 M673 548.1 L672.2 607.2 M678.1 548.1 L677.3 607.2 M683.2 548.1 L682.4 607.2 M688.3 548.1 L687.5 607.2 M693.4 548.1 L692.6 607.2" stroke="#262626" stroke-width="1.2" fill="none"/><path d="M625.7 534 L639 538.7 Q635 556 640.4 577.4 Q635 598 639.7 618.8 L626.3 622.8 L621.7 606.8 L625.7 598.8 Q623.5 588 624.5 575 Q625.5 558 623 541.4 Z" fill="url(#gHex)" stroke="#2a2a2a" stroke-width="1"/><path d="M639 538.7 H651.7 Q655.5 557 651.7 577.4 H640.4 Q635 556 639 538.7 Z" fill="url(#gHex)" stroke="#2a2a2a" stroke-width="1"/><path d="M640.4 577.4 H651.7 Q655.5 598 651.7 618.8 H639.7 Q635 598 640.4 577.4 Z" fill="url(#gHex)" stroke="#2a2a2a" stroke-width="1"/></g>
<g><rect x="754.6" y="499.2" width="12.6" height="156.6" fill="url(#gPlate1)" stroke="#2a2a2a" stroke-width="1.1"/><rect x="767.2" y="504" width="12.6" height="144.4" fill="#d9d9d9" stroke="#2a2a2a" stroke-width="1.1"/><rect x="747.9" y="532.3" width="6.7" height="90.6" rx="1.2" fill="url(#gFlange)" stroke="#2a2a2a" stroke-width="1.1"/><rect x="754.6" y="545" width="24.4" height="63.8" fill="url(#gNut)"/><path d="M755.4 546.5 H778.2" stroke="#333" stroke-width="1.3"/><path d="M755.4 549.4 H778.2" stroke="#333" stroke-width="1.3"/><path d="M755.4 552.3 H778.2" stroke="#333" stroke-width="1.3"/><path d="M755.4 555.2 H778.2" stroke="#333" stroke-width="1.3"/><path d="M755.4 558.1 H778.2" stroke="#333" stroke-width="1.3"/><path d="M755.4 561 H778.2" stroke="#333" stroke-width="1.3"/><path d="M755.4 563.9 H778.2" stroke="#333" stroke-width="1.3"/><path d="M755.4 566.8 H778.2" stroke="#333" stroke-width="1.3"/><path d="M755.4 569.7 H778.2" stroke="#333" stroke-width="1.3"/><path d="M755.4 572.6 H778.2" stroke="#333" stroke-width="1.3"/><path d="M755.4 575.5 H778.2" stroke="#333" stroke-width="1.3"/><path d="M755.4 578.4 H778.2" stroke="#333" stroke-width="1.3"/><path d="M755.4 581.3 H778.2" stroke="#333" stroke-width="1.3"/><path d="M755.4 584.2 H778.2" stroke="#333" stroke-width="1.3"/><path d="M755.4 587.1 H778.2" stroke="#333" stroke-width="1.3"/><path d="M755.4 590 H778.2" stroke="#333" stroke-width="1.3"/><path d="M755.4 592.9 H778.2" stroke="#333" stroke-width="1.3"/><path d="M755.4 595.8 H778.2" stroke="#333" stroke-width="1.3"/><path d="M755.4 598.7 H778.2" stroke="#333" stroke-width="1.3"/><path d="M755.4 601.6 H778.2" stroke="#333" stroke-width="1.3"/><path d="M755.4 604.5 H778.2" stroke="#333" stroke-width="1.3"/><rect x="754.6" y="546.4" width="24.4" height="62.4" fill="none"/><path d="M755.4 547.9 H778.2" stroke="#ececec" stroke-width="0.7"/><path d="M755.4 550.8 H778.2" stroke="#ececec" stroke-width="0.7"/><path d="M755.4 553.7 H778.2" stroke="#ececec" stroke-width="0.7"/><path d="M755.4 556.6 H778.2" stroke="#ececec" stroke-width="0.7"/><path d="M755.4 559.5 H778.2" stroke="#ececec" stroke-width="0.7"/><path d="M755.4 562.4 H778.2" stroke="#ececec" stroke-width="0.7"/><path d="M755.4 565.3 H778.2" stroke="#ececec" stroke-width="0.7"/><path d="M755.4 568.2 H778.2" stroke="#ececec" stroke-width="0.7"/><path d="M755.4 571.1 H778.2" stroke="#ececec" stroke-width="0.7"/><path d="M755.4 574 H778.2" stroke="#ececec" stroke-width="0.7"/><path d="M755.4 576.9 H778.2" stroke="#ececec" stroke-width="0.7"/><path d="M755.4 579.8 H778.2" stroke="#ececec" stroke-width="0.7"/><path d="M755.4 582.7 H778.2" stroke="#ececec" stroke-width="0.7"/><path d="M755.4 585.6 H778.2" stroke="#ececec" stroke-width="0.7"/><path d="M755.4 588.5 H778.2" stroke="#ececec" stroke-width="0.7"/><path d="M755.4 591.4 H778.2" stroke="#ececec" stroke-width="0.7"/><path d="M755.4 594.3 H778.2" stroke="#ececec" stroke-width="0.7"/><path d="M755.4 597.2 H778.2" stroke="#ececec" stroke-width="0.7"/><path d="M755.4 600.1 H778.2" stroke="#ececec" stroke-width="0.7"/><path d="M755.4 603 H778.2" stroke="#ececec" stroke-width="0.7"/><path d="M755.4 605.9 H778.2" stroke="#ececec" stroke-width="0.7"/><rect x="754.6" y="545" width="24.4" height="63.8" fill="none" stroke="#2a2a2a" stroke-width="1"/><path d="M796.7 544.7 H830.2 L839 557.4 V597.1 L830.2 609.6 H796.7 Z" fill="url(#gNut)" stroke="#2a2a2a" stroke-width="1.1"/><path d="M830.2 544.7 V609.6" stroke="#444" stroke-width="1"/><rect x="779" y="529.1" width="17.7" height="94.4" rx="8.5" ry="11" fill="url(#gBulge)" stroke="#2a2a2a" stroke-width="1.1"/></g>
<rect x="839" y="558.5" width="4.7" height="37.9" rx="1" fill="url(#gCap)" stroke="#2a2a2a" stroke-width="1"/>
<g transform="translate(329 -2.7)"><rect x="754.6" y="499.2" width="12.6" height="156.6" fill="url(#gPlate1)" stroke="#2a2a2a" stroke-width="1.1"/><rect x="767.2" y="504" width="12.6" height="144.4" fill="#d9d9d9" stroke="#2a2a2a" stroke-width="1.1"/><rect x="747.9" y="532.3" width="6.7" height="90.6" rx="1.2" fill="url(#gFlange)" stroke="#2a2a2a" stroke-width="1.1"/><rect x="754.6" y="545" width="24.4" height="63.8" fill="url(#gNut)"/><path d="M755.4 546.5 H778.2" stroke="#333" stroke-width="1.3"/><path d="M755.4 549.4 H778.2" stroke="#333" stroke-width="1.3"/><path d="M755.4 552.3 H778.2" stroke="#333" stroke-width="1.3"/><path d="M755.4 555.2 H778.2" stroke="#333" stroke-width="1.3"/><path d="M755.4 558.1 H778.2" stroke="#333" stroke-width="1.3"/><path d="M755.4 561 H778.2" stroke="#333" stroke-width="1.3"/><path d="M755.4 563.9 H778.2" stroke="#333" stroke-width="1.3"/><path d="M755.4 566.8 H778.2" stroke="#333" stroke-width="1.3"/><path d="M755.4 569.7 H778.2" stroke="#333" stroke-width="1.3"/><path d="M755.4 572.6 H778.2" stroke="#333" stroke-width="1.3"/><path d="M755.4 575.5 H778.2" stroke="#333" stroke-width="1.3"/><path d="M755.4 578.4 H778.2" stroke="#333" stroke-width="1.3"/><path d="M755.4 581.3 H778.2" stroke="#333" stroke-width="1.3"/><path d="M755.4 584.2 H778.2" stroke="#333" stroke-width="1.3"/><path d="M755.4 587.1 H778.2" stroke="#333" stroke-width="1.3"/><path d="M755.4 590 H778.2" stroke="#333" stroke-width="1.3"/><path d="M755.4 592.9 H778.2" stroke="#333" stroke-width="1.3"/><path d="M755.4 595.8 H778.2" stroke="#333" stroke-width="1.3"/><path d="M755.4 598.7 H778.2" stroke="#333" stroke-width="1.3"/><path d="M755.4 601.6 H778.2" stroke="#333" stroke-width="1.3"/><path d="M755.4 604.5 H778.2" stroke="#333" stroke-width="1.3"/><rect x="754.6" y="546.4" width="24.4" height="62.4" fill="none"/><path d="M755.4 547.9 H778.2" stroke="#ececec" stroke-width="0.7"/><path d="M755.4 550.8 H778.2" stroke="#ececec" stroke-width="0.7"/><path d="M755.4 553.7 H778.2" stroke="#ececec" stroke-width="0.7"/><path d="M755.4 556.6 H778.2" stroke="#ececec" stroke-width="0.7"/><path d="M755.4 559.5 H778.2" stroke="#ececec" stroke-width="0.7"/><path d="M755.4 562.4 H778.2" stroke="#ececec" stroke-width="0.7"/><path d="M755.4 565.3 H778.2" stroke="#ececec" stroke-width="0.7"/><path d="M755.4 568.2 H778.2" stroke="#ececec" stroke-width="0.7"/><path d="M755.4 571.1 H778.2" stroke="#ececec" stroke-width="0.7"/><path d="M755.4 574 H778.2" stroke="#ececec" stroke-width="0.7"/><path d="M755.4 576.9 H778.2" stroke="#ececec" stroke-width="0.7"/><path d="M755.4 579.8 H778.2" stroke="#ececec" stroke-width="0.7"/><path d="M755.4 582.7 H778.2" stroke="#ececec" stroke-width="0.7"/><path d="M755.4 585.6 H778.2" stroke="#ececec" stroke-width="0.7"/><path d="M755.4 588.5 H778.2" stroke="#ececec" stroke-width="0.7"/><path d="M755.4 591.4 H778.2" stroke="#ececec" stroke-width="0.7"/><path d="M755.4 594.3 H778.2" stroke="#ececec" stroke-width="0.7"/><path d="M755.4 597.2 H778.2" stroke="#ececec" stroke-width="0.7"/><path d="M755.4 600.1 H778.2" stroke="#ececec" stroke-width="0.7"/><path d="M755.4 603 H778.2" stroke="#ececec" stroke-width="0.7"/><path d="M755.4 605.9 H778.2" stroke="#ececec" stroke-width="0.7"/><rect x="754.6" y="545" width="24.4" height="63.8" fill="none" stroke="#2a2a2a" stroke-width="1"/><path d="M796.7 544.7 H830.2 L839 557.4 V597.1 L830.2 609.6 H796.7 Z" fill="url(#gNut)" stroke="#2a2a2a" stroke-width="1.1"/><path d="M830.2 544.7 V609.6" stroke="#444" stroke-width="1"/><rect x="779" y="529.1" width="17.7" height="94.4" rx="8.5" ry="11" fill="url(#gBulge)" stroke="#2a2a2a" stroke-width="1.1"/></g>
<rect x="468.5" y="497.3" width="12" height="154.7" fill="url(#gPlate1)" stroke="#2a2a2a" stroke-width="1.1"/><rect x="480.5" y="503.5" width="11.5" height="143.2" fill="#d9d9d9" stroke="#2a2a2a" stroke-width="1.1"/><path d="M461.2 528.5 H468.2 V542.8 H552.7 L564.4 553 V597.8 L552.7 608.9 H468.2 V622.8 H461.2 Z" fill="#4d4d4d" stroke="#222" stroke-width="1.1"/><path d="M461.8 552.3 H508.6 V599.3 H461.8 Z" fill="url(#gBore)" stroke="#222" stroke-width="1"/><path d="M508.6 555.5 L510.55 552.5 L512.5 555.5 L514.45 552.5 L516.4 555.5 L518.35 552.5 L520.3 555.5 L522.25 552.5 L524.2 555.5 L526.15 552.5 L528.1 555.5 L530.05 552.5 L532 555.5 L533.95 552.5 L535.9 555.5 L537.85 552.5 L539.8 555.5 L541.75 552.5 L543.7 555.5 L545.65 552.5 L547.6 555.5 L549.55 552.5 L551.5 555.5 L553.45 552.5 L555.4 555.5 L557.35 552.5 L559.3 555.5 L561.25 552.5 L563.2 555.5 L569.6 557.5 V594.5 L564.4 599.8 L563.2 596.6 L561.25 599.8 L559.3 596.6 L557.35 599.8 L555.4 596.6 L553.45 599.8 L551.5 596.6 L549.55 599.8 L547.6 596.6 L545.65 599.8 L543.7 596.6 L541.75 599.8 L539.8 596.6 L537.85 599.8 L535.9 596.6 L533.95 599.8 L532 596.6 L530.05 599.8 L528.1 596.6 L526.15 599.8 L524.2 596.6 L522.25 599.8 L520.3 596.6 L518.35 599.8 L516.4 596.6 L514.45 599.8 L512.5 596.6 L510.55 599.8 L508.6 596.6 Z" fill="url(#gTool)" stroke="#2a2a2a" stroke-width="1" stroke-linejoin="miter"/><path d="M508.6 555.5 L507.8 596.6 M512.5 555.5 L511.7 596.6 M516.4 555.5 L515.6 596.6 M520.3 555.5 L519.5 596.6 M524.2 555.5 L523.4 596.6 M528.1 555.5 L527.3 596.6 M532 555.5 L531.2 596.6 M535.9 555.5 L535.1 596.6 M539.8 555.5 L539 596.6 M543.7 555.5 L542.9 596.6 M547.6 555.5 L546.8 596.6 M551.5 555.5 L550.7 596.6 M555.4 555.5 L554.6 596.6 M559.3 555.5 L558.5 596.6 M563.2 555.5 L562.4 596.6" stroke="#262626" stroke-width="1.2" fill="none"/><path d="M462 553.4 H506" stroke="#ddd" stroke-width="0.8"/>
</svg>
</body></html>
